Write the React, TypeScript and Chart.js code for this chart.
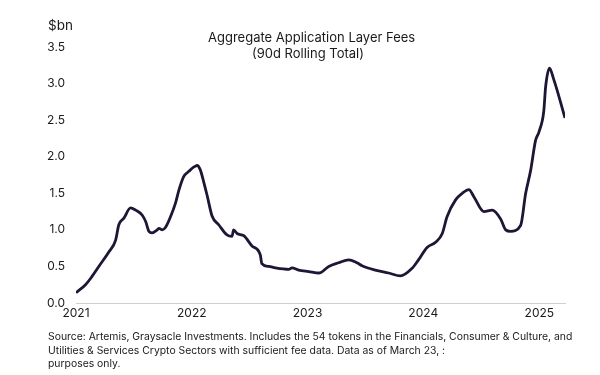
import React, { useEffect, useRef } from "react";
import { Chart, registerables } from "chart.js";

Chart.register(...registerables);

const dates: string[] = [
  "2021-01-01", "2021-01-31", "2021-02-20", "2021-03-14", "2021-04-15", "2021-05-06", "2021-05-16",
  "2021-06-01", "2021-06-22", "2021-07-08", "2021-07-29", "2021-08-09", "2021-08-19", "2021-08-29",
  "2021-09-14", "2021-09-20", "2021-09-30", "2021-10-11", "2021-10-26", "2021-11-11", "2021-11-22",
  "2021-12-07", "2021-12-23", "2022-01-08", "2022-01-18", "2022-01-28", "2022-02-08", "2022-02-18",
  "2022-03-06", "2022-03-27", "2022-04-22", "2022-05-08", "2022-05-13", "2022-05-24", "2022-06-14",
  "2022-07-10", "2022-08-05", "2022-08-10", "2022-09-01", "2022-09-22", "2022-11-03", "2022-11-13",
  "2022-12-04", "2023-01-05", "2023-02-06", "2023-03-09", "2023-04-09", "2023-05-11", "2023-06-06",
  "2023-06-22", "2023-08-03", "2023-09-14", "2023-10-21", "2023-11-26", "2023-12-17", "2024-01-13",
  "2024-02-09", "2024-03-01", "2024-03-16", "2024-04-12", "2024-05-03", "2024-05-24", "2024-06-09",
  "2024-07-10", "2024-08-05", "2024-09-01", "2024-09-17", "2024-10-02", "2024-11-03", "2024-11-19",
  "2024-12-05", "2024-12-20", "2024-12-31", "2025-01-15", "2025-01-21", "2025-02-02", "2025-02-16",
  "2025-02-26", "2025-03-23",
];

const feesBn: number[] = [
  0.14, 0.25, 0.36, 0.5, 0.7, 0.86, 1.07,
  1.16, 1.3, 1.27, 1.2, 1.11, 0.98, 0.96,
  1.0, 1.02, 1.0, 1.04, 1.18, 1.37, 1.55,
  1.73, 1.8, 1.86, 1.88, 1.82, 1.65, 1.48,
  1.19, 1.07, 0.93, 0.91, 1.0, 0.95, 0.92,
  0.78, 0.66, 0.54, 0.5, 0.48, 0.46, 0.48,
  0.45, 0.43, 0.41, 0.5, 0.55, 0.59, 0.55,
  0.51, 0.45, 0.41, 0.37, 0.47, 0.59, 0.76,
  0.83, 0.95, 1.18, 1.41, 1.5, 1.55, 1.45,
  1.25, 1.27, 1.15, 1.0, 0.98, 1.06, 1.5,
  1.82, 2.22, 2.34, 2.62, 2.96, 3.21, 3.05,
  2.91, 2.53,
];

const yearTicks: number[] = [2021, 2022, 2023, 2024, 2025];

const titleLines: string[] = ["Aggregate Application Layer Fees", "(90d Rolling Total)"];
const unitLabel = "$bn";
const footnoteLines: string[] = [
  "Source: Artemis, Graysacle Investments. Includes the 54 tokens in the Financials, Consumer & Culture, and",
  "Utilities & Services Crypto Sectors with sufficient fee data. Data as of March 23, :",
  "purposes only.",
];

const toMs = (d: string) => {
  const [y, m, dd] = d.split("-").map(Number);
  return Date.UTC(y, m - 1, dd);
};

const FONT = "Inter, 'Noto Sans', sans-serif";
const TEXT = "#1a1a1a";

export default function App() {
  const ref = useRef<HTMLCanvasElement | null>(null);

  useEffect(() => {
    document.body.style.margin = "0";
    const ctx = ref.current;
    if (!ctx) return;
    const points = dates.map((d, i) => ({ x: toMs(d), y: feesBn[i] }));
    const chart = new Chart(ctx, {
      type: "line",
      data: {
        datasets: [
          {
            data: points,
            borderColor: "#1f1535",
            borderWidth: 2.8,
            pointRadius: 0,
            cubicInterpolationMode: "monotone",
            fill: false,
          },
        ],
      },
      options: {
        animation: false,
        responsive: false,
        maintainAspectRatio: false,
        layout: { padding: { left: 0, right: 35, top: 47, bottom: 47 } },
        plugins: { legend: { display: false }, tooltip: { enabled: false }, title: { display: false } },
        scales: {
          x: {
            type: "linear",
            min: toMs("2021-01-01"),
            max: toMs("2025-03-23"),
            grid: { display: false, drawTicks: false },
            border: { display: true, color: "#cfcfcf", width: 1 },
            afterBuildTicks: (scale: any) => {
              scale.ticks = yearTicks.map((y) => ({ value: Date.UTC(y, 0, 1) }));
            },
            afterFit: (scale: any) => {
              scale.height = 25;
            },
            ticks: {
              color: TEXT,
              font: { family: FONT, size: 12 },
              padding: 3,
              maxRotation: 0,
              autoSkip: false,
              callback: (v: any) => String(new Date(Number(v)).getUTCFullYear()),
            },
          },
          y: {
            min: 0,
            max: 3.5,
            grid: { display: false, drawTicks: false },
            border: { display: false },
            afterFit: (scale: any) => {
              scale.width = 76;
            },
            ticks: {
              stepSize: 0.5,
              color: TEXT,
              font: { family: FONT, size: 12 },
              padding: 11,
              callback: (v: any) => Number(v).toFixed(1),
            },
          },
        },
      },
    });
    return () => chart.destroy();
  }, []);

  return (
    <div style={{ position: "relative", width: 600, height: 375, background: "#fff", fontFamily: FONT, color: TEXT }}>
      <canvas ref={ref} width={600} height={375} style={{ position: "absolute", left: 0, top: 0 }} />
      <div style={{ position: "absolute", left: 48, top: 17, fontSize: 13.5, lineHeight: "16px" }}>{unitLabel}</div>
      <div
        style={{
          position: "absolute",
          left: 208,
          width: 200,
          top: 29,
          fontSize: 13,
          lineHeight: "16px",
          textAlign: "center",
          whiteSpace: "nowrap",
        }}
      >
        {titleLines.map((t, i) => (
          <div key={i}>{t}</div>
        ))}
      </div>
      <div style={{ position: "absolute", left: 48, top: 330, fontSize: 10.4, lineHeight: "13.5px", whiteSpace: "nowrap" }}>
        {footnoteLines.map((t, i) => (
          <div key={i}>{t}</div>
        ))}
      </div>
    </div>
  );
}
